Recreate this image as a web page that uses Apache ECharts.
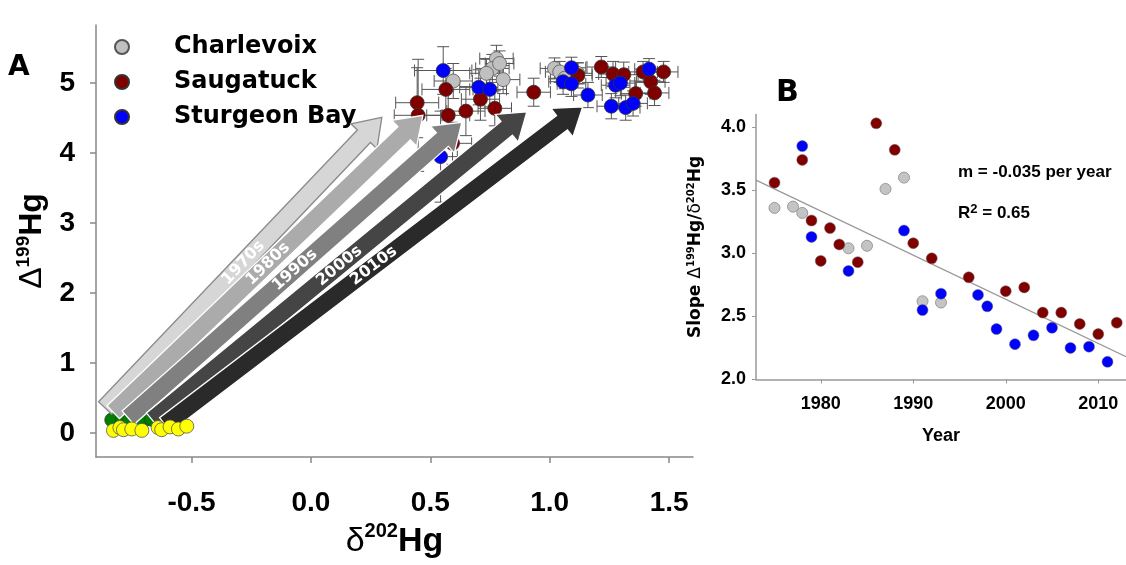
<!DOCTYPE html>
<html><head><meta charset="utf-8">
<script src="https://cdn.jsdelivr.net/npm/echarts@6/dist/echarts.min.js"></script>
<style>html,body{margin:0;padding:0;background:#fff}#c{width:1126px;height:565px}</style>
</head><body><div id="c"></div>
<script>
// ---------- Panel A : [δ202Hg, Δ199Hg, xErr, yErr] ----------
const charlevoix = [
  [0.596,5.03,0.08,0.25],[0.777,5.35,0.07,0.19],[0.760,5.21,0.07,0.2],[0.805,5.05,0.07,0.2],
  [0.735,5.14,0.07,0.2],[0.790,5.28,0.06,0.18],[1.020,5.21,0.06,0.15],[1.042,5.16,0.06,0.15],
  [1.117,5.14,0.06,0.15],[1.063,5.07,0.06,0.15]
];
const saugatuck = [
  [0.565,4.91,0.1,0.3],[0.445,4.72,0.09,0.5],[0.449,4.54,0.1,0.8],[0.575,4.54,0.09,0.35],
  [0.649,4.60,0.08,0.35],[0.710,4.77,0.08,0.3],[0.770,4.64,0.07,0.25],[0.933,4.87,0.07,0.2],
  [0.593,4.14,0.08,0.3],[1.118,5.11,0.06,0.18],[1.216,5.23,0.06,0.15],[1.265,5.13,0.06,0.18],
  [1.310,5.12,0.06,0.18],[1.360,4.85,0.06,0.18],[1.391,5.16,0.06,0.15],[1.477,5.16,0.06,0.15],
  [1.423,5.02,0.06,0.18],[1.439,4.86,0.06,0.18]
];
const sturgeonBay = [
  [0.554,5.18,0.12,0.34],[0.703,4.94,0.08,0.25],[0.749,4.91,0.07,0.25],[0.543,3.95,0.07,0.65],
  [1.091,5.22,0.06,0.15],[1.056,5.02,0.06,0.18],[1.091,4.99,0.06,0.18],[1.160,4.83,0.06,0.18],
  [1.276,4.97,0.06,0.18],[1.296,5.00,0.06,0.18],[1.416,5.20,0.06,0.15],[1.258,4.67,0.06,0.18],
  [1.318,4.65,0.06,0.18],[1.349,4.71,0.06,0.18]
];
const yellowPts = [[-0.827,0.04],[-0.800,0.08],[-0.785,0.05],[-0.750,0.06],[-0.708,0.04],
  [-0.640,0.08],[-0.625,0.05],[-0.590,0.09],[-0.555,0.06],[-0.520,0.10]];
const greenPts = [[-0.834,0.19],[-0.790,0.20],[-0.760,0.17],[-0.700,0.18],[-0.667,0.20],[-0.625,0.17]];
const decadeLabels = ['1970s','1980s','1990s','2000s','2010s'];
const arrowTails = [[-0.862,0.36],[-0.828,0.30],[-0.766,0.22],[-0.665,0.19],[-0.611,0.12]];
const arrowHeads = [[0.297,4.51],[0.469,4.54],[0.632,4.44],[0.904,4.59],[1.138,4.66]];
const xTicksA = [-0.5,0,0.5,1,1.5];
const yTicksA = [0,1,2,3,4,5];

// ---------- Panel B : [year, slope] ----------
const slopeCharlevoix = [[1975,3.36],[1977,3.37],[1978,3.32],[1983,3.04],[1985,3.06],[1987,3.51],[1989,3.60],[1991,2.62],[1993,2.61]];
const slopeSaugatuck = [[1975,3.56],[1978,3.74],[1979,3.26],[1980,2.94],[1981,3.20],[1982,3.07],[1984,2.93],[1986,4.03],[1988,3.82],[1990,3.08],[1992,2.96],[1996,2.81],[2000,2.70],[2002,2.73],[2004,2.53],[2006,2.53],[2008,2.44],[2010,2.36],[2012,2.45]];
const slopeSturgeonBay = [[1978,3.85],[1979,3.13],[1983,2.86],[1989,3.18],[1991,2.55],[1993,2.68],[1997,2.67],[1998,2.58],[1999,2.40],[2001,2.28],[2003,2.35],[2005,2.41],[2007,2.25],[2009,2.26],[2011,2.14]];
const trendLine = [[1973,3.58],[2013,2.18]];
const xTicksB = [1980,1990,2000,2010];
const yTicksB = [2.0,2.5,3.0,3.5,4.0];

// ---------- styles ----------
const LIB = "Liberation Sans";
const DJV = "DejaVu Sans";
const ARROW_FILL = ['#d6d6d6','#ababab','#808080','#454545','#2a2a2a'];
const ARROW_STROKE = ['#8a8a8a','#ffffff','#ffffff','#ffffff','#ffffff'];

const chart = echarts.init(document.getElementById('c'), null, {renderer:'canvas'});

function errRender(params, api){
  const x=api.value(0), y=api.value(1), ex=api.value(2), ey=api.value(3);
  const c=api.coord([x,y]), l=api.coord([x-ex,y]), r=api.coord([x+ex,y]);
  const t=api.coord([x,y+ey]), b=api.coord([x,y-ey]);
  const cap=6, st={stroke:'#555', lineWidth:1};
  return {type:'group', children:[
    {type:'line', shape:{x1:l[0],y1:c[1],x2:r[0],y2:c[1]}, style:st},
    {type:'line', shape:{x1:c[0],y1:t[1],x2:c[0],y2:b[1]}, style:st},
    {type:'line', shape:{x1:l[0],y1:c[1]-cap,x2:l[0],y2:c[1]+cap}, style:st},
    {type:'line', shape:{x1:r[0],y1:c[1]-cap,x2:r[0],y2:c[1]+cap}, style:st},
    {type:'line', shape:{x1:c[0]-cap,y1:t[1],x2:c[0]+cap,y2:t[1]}, style:st},
    {type:'line', shape:{x1:c[0]-cap,y1:b[1],x2:c[0]+cap,y2:b[1]}, style:st}
  ]};
}
function arrowRender(params, api){
  const i=params.dataIndex;
  const s=api.coord([api.value(0),api.value(1)]), e=api.coord([api.value(2),api.value(3)]);
  const dx=e[0]-s[0], dy=e[1]-s[1], L=Math.hypot(dx,dy);
  const ux=dx/L, uy=dy/L, nx=-uy, ny=ux;
  const hw=9, hh=18, hl=26;
  const bx=e[0]-ux*hl, by=e[1]-uy*hl;
  const pts=[[s[0]+nx*hw,s[1]+ny*hw],[bx+nx*hw,by+ny*hw],[bx+nx*hh,by+ny*hh],[e[0],e[1]],
             [bx-nx*hh,by-ny*hh],[bx-nx*hw,by-ny*hw],[s[0]-nx*hw,s[1]-ny*hw]];
  const ang=Math.atan2(-dy,dx);
  return {type:'group', children:[
    {type:'polygon', shape:{points:pts}, style:{fill:ARROW_FILL[i], stroke:ARROW_STROKE[i], lineWidth:1.3}},
    {type:'text', x:(s[0]+e[0])/2, y:(s[1]+e[1])/2, rotation:ang,
     style:{text:decadeLabels[i], fill:'#fff', font:"bold 16px 'DejaVu Sans'", align:'center', verticalAlign:'middle'}}
  ]};
}

const allA = charlevoix.concat(saugatuck, sturgeonBay);
const arrowData = arrowTails.map((t,i)=>[t[0],t[1],arrowHeads[i][0],arrowHeads[i][1]]);
const ptStyle = (c,b)=>({color:c, borderColor:b||'#333', borderWidth:0.8, opacity:1});

const option = {
  animation:false,
  backgroundColor:'#fff',
  grid:[
    {left:96, top:25, width:597, height:432},
    {left:756, top:114.5, width:377, height:265}
  ],
  legend:{
    data:['Charlevoix','Saugatuck','Sturgeon Bay'], orient:'vertical', left:114, top:32, padding:0,
    itemWidth:14, itemHeight:14, itemGap:5, z:3,
    textStyle:{fontFamily:DJV, fontWeight:'bold', fontSize:24, color:'#000', lineHeight:30, padding:[0,0,0,40]}
  },
  xAxis:[
    {gridIndex:0, type:'value', min:-0.9, max:1.6,
     axisLine:{show:true, onZero:false, lineStyle:{color:'#888', width:1.5}},
     axisTick:{show:true, customValues:xTicksA, length:6, lineStyle:{color:'#888', width:1.5}},
     axisLabel:{customValues:xTicksA, formatter:v=>v.toFixed(1), margin:32, color:'#000', fontSize:28, fontWeight:'bold', fontFamily:LIB},
     splitLine:{show:false},
     name:'{d|δ}{s|202}{h|Hg}', nameLocation:'middle', nameGap:64,
     nameTextStyle:{rich:{
       d:{fontSize:34, fontFamily:LIB, color:'#000', lineHeight:40},
       s:{fontSize:20, fontFamily:LIB, fontWeight:'bold', color:'#000', lineHeight:22, verticalAlign:'top'},
       h:{fontSize:34, fontFamily:LIB, fontWeight:'bold', color:'#000', lineHeight:40}}}},
    {gridIndex:1, type:'value', min:1973, max:2013,
     axisLine:{show:true, onZero:false, lineStyle:{color:'#999', width:1.5}},
     axisTick:{show:true, customValues:xTicksB, length:4, lineStyle:{color:'#999'}},
     axisLabel:{customValues:xTicksB, formatter:v=>String(v), margin:16, color:'#000', fontSize:18, fontWeight:'bold', fontFamily:LIB},
     splitLine:{show:false},
     name:'Year', nameLocation:'middle', nameGap:48,
     nameTextStyle:{fontSize:18, fontWeight:'bold', fontFamily:LIB, color:'#000'}}
  ],
  yAxis:[
    {gridIndex:0, type:'value', min:-0.34, max:5.83,
     axisLine:{show:true, onZero:false, lineStyle:{color:'#888', width:1.5}},
     axisTick:{show:true, customValues:yTicksA, length:6, lineStyle:{color:'#888', width:1.5}},
     axisLabel:{customValues:yTicksA, margin:21, color:'#000', fontSize:28, fontWeight:'bold', fontFamily:LIB},
     splitLine:{show:false},
     name:'{d|Δ}{s|199}{h|Hg}', nameLocation:'middle', nameRotate:90, nameGap:44,
     nameTextStyle:{rich:{
       d:{fontSize:32, fontFamily:LIB, color:'#000', lineHeight:36},
       s:{fontSize:19, fontFamily:LIB, fontWeight:'bold', color:'#000', lineHeight:20, verticalAlign:'top'},
       h:{fontSize:32, fontFamily:LIB, fontWeight:'bold', color:'#000', lineHeight:36}}}},
    {gridIndex:1, type:'value', min:2.0, max:4.1,
     axisLine:{show:true, onZero:false, lineStyle:{color:'#999', width:1.5}},
     axisTick:{show:true, customValues:yTicksB, length:4, lineStyle:{color:'#999'}},
     axisLabel:{customValues:yTicksB, formatter:v=>v.toFixed(1), margin:10, color:'#000', fontSize:18, fontWeight:'bold', fontFamily:LIB},
     splitLine:{show:false},
     name:'{n|Slope }{d|Δ}{s|199}{n|Hg/}{d|δ}{s|202}{n|Hg}', nameLocation:'middle', nameRotate:90, nameGap:50,
     nameTextStyle:{rich:{
       n:{fontSize:17, fontFamily:DJV, fontWeight:'bold', color:'#000', lineHeight:20},
       d:{fontSize:17, fontFamily:DJV, color:'#000', lineHeight:20},
       s:{fontSize:10, fontFamily:DJV, fontWeight:'bold', color:'#000', lineHeight:11, verticalAlign:'top'}}}}
  ],
  graphic:[
    {type:'text', left:8, top:54, style:{text:'A', font:"bold 28px 'DejaVu Sans'", fill:'#000'}},
    {type:'text', left:776, top:78, style:{text:'B', font:"bold 30px 'DejaVu Sans'", fill:'#000'}},
    {type:'text', left:958, top:164, style:{text:'m = -0.035 per year', font:"bold 17px 'Liberation Sans'", fill:'#000'}},
    {type:'text', left:958, top:203, style:{text:'{a|R}{s|2}{a| = 0.65}', rich:{
      a:{font:"bold 17px 'Liberation Sans'", fill:'#000', lineHeight:20},
      s:{font:"bold 13px 'Liberation Sans'", fill:'#000', lineHeight:13, verticalAlign:'top'}}}}
  ],
  series:[
    {type:'custom', name:'errors', xAxisIndex:0, yAxisIndex:0, renderItem:errRender, data:allA, encode:{x:0,y:1}, z:2, silent:true},
    {type:'scatter', name:'green', xAxisIndex:0, yAxisIndex:0, data:greenPts, symbolSize:14, itemStyle:ptStyle('#008000'), z:3},
    {type:'scatter', name:'Charlevoix', xAxisIndex:0, yAxisIndex:0, data:charlevoix.map(p=>[p[0],p[1]]), symbolSize:14, itemStyle:ptStyle('#c0c0c0','#555'), z:4},
    {type:'scatter', name:'Saugatuck', xAxisIndex:0, yAxisIndex:0, data:saugatuck.map(p=>[p[0],p[1]]), symbolSize:14, itemStyle:ptStyle('#800000'), z:4},
    {type:'scatter', name:'Sturgeon Bay', xAxisIndex:0, yAxisIndex:0, data:sturgeonBay.map(p=>[p[0],p[1]]), symbolSize:14, itemStyle:ptStyle('#0000ff'), z:4},
    {type:'custom', name:'arrows', xAxisIndex:0, yAxisIndex:0, renderItem:arrowRender, data:arrowData, encode:{x:[0,2],y:[1,3]}, z:10, silent:true},
    {type:'scatter', name:'yellow', xAxisIndex:0, yAxisIndex:0, data:yellowPts, symbolSize:14, itemStyle:ptStyle('#ffff00','#555'), z:11},
    {type:'line', name:'trend', xAxisIndex:1, yAxisIndex:1, data:trendLine, symbol:'none', lineStyle:{color:'#999', width:1.3}, z:2, silent:true},
    {type:'scatter', name:'Charlevoix', xAxisIndex:1, yAxisIndex:1, data:slopeCharlevoix, symbolSize:11, itemStyle:{color:'#c4c4c4', borderColor:'#999', borderWidth:1, opacity:1}, z:4},
    {type:'scatter', name:'Saugatuck', xAxisIndex:1, yAxisIndex:1, data:slopeSaugatuck, symbolSize:11, itemStyle:{color:'#800000', borderColor:'#666', borderWidth:0.5, opacity:1}, z:4},
    {type:'scatter', name:'Sturgeon Bay', xAxisIndex:1, yAxisIndex:1, data:slopeSturgeonBay, symbolSize:11, itemStyle:{color:'#0000ff', borderColor:'#666', borderWidth:0.5, opacity:1}, z:4}
  ]
};
chart.setOption(option);
</script></body></html>
